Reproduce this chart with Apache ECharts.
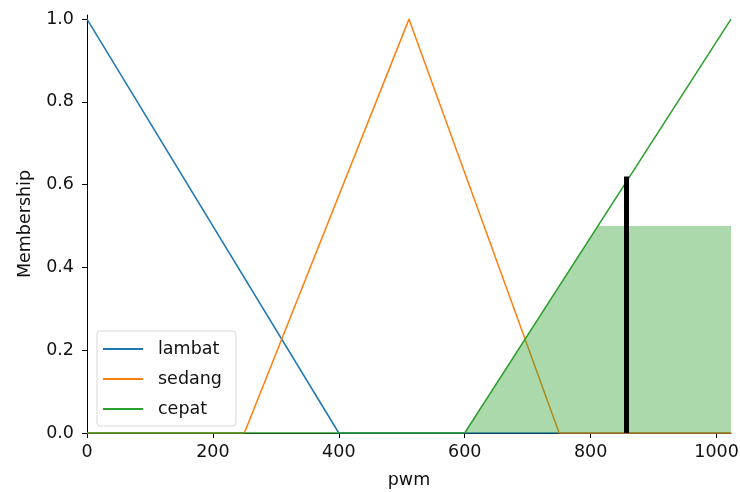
<!DOCTYPE html>
<html><head><meta charset="utf-8">
<script src="https://cdn.jsdelivr.net/npm/echarts@6/dist/echarts.min.js"></script>
<style>html,body{margin:0;padding:0;background:#fff}#c{width:740px;height:492px}</style>
</head><body><div id="c"></div>
<script>
// Membership function vertices (x = pwm, y = membership)
const lambatX = [0, 400, 1023];
const lambatY = [1, 0, 0];
const sedangX = [0, 250, 511.5, 750, 1023];
const sedangY = [0, 0, 1, 0, 0];
const cepatX = [0, 600, 1023];
const cepatY = [0, 0, 1];
// Activated (clipped) region of "cepat"
const fillX = [600, 811.5, 1023];
const fillY = [0, 0.5, 0.5];
// Crisp output line
const crispX = [857, 857];
const crispY = [0, 0.62];
const xTicks = [0, 200, 400, 600, 800, 1000];
const yTicks = [0, 0.2, 0.4, 0.6, 0.8, 1.0];
const seriesNames = ['lambat', 'sedang', 'cepat'];

const pair = (xs, ys) => xs.map((x, i) => [x, ys[i]]);
const FONT = 'DejaVu Sans';
const FS = 17.5;
const chart = echarts.init(document.getElementById('c'), null, {renderer: 'canvas'});
chart.setOption({
  animation: false,
  textStyle: {fontFamily: FONT},
  grid: {left: 87, right: 9, top: 15, bottom: 59, containLabel: false, outerBoundsMode: 'none'},
  xAxis: {
    type: 'value', min: 0, max: 1023,
    name: 'pwm', nameLocation: 'middle', nameGap: 38,
    nameTextStyle: {fontSize: FS, color: '#111', fontFamily: FONT},
    axisLine: {show: true, lineStyle: {color: '#000', width: 1}},
    axisTick: {show: true, length: 5, lineStyle: {color: '#000'}, customValues: xTicks},
    axisLabel: {fontSize: FS, color: '#111', margin: 10, fontFamily: FONT, customValues: xTicks,
      formatter: v => String(Math.round(v))},
    splitLine: {show: false}
  },
  yAxis: {
    type: 'value', min: 0, max: 1.01,
    name: 'Membership', nameLocation: 'middle', nameGap: 53, nameRotate: 90,
    nameTextStyle: {fontSize: FS, color: '#111', fontFamily: FONT},
    axisLine: {show: true, lineStyle: {color: '#000', width: 1}},
    axisTick: {show: true, length: 5, lineStyle: {color: '#000'}, customValues: yTicks},
    axisLabel: {fontSize: FS, color: '#111', margin: 13, fontFamily: FONT, customValues: yTicks,
      formatter: v => v.toFixed(1)},
    splitLine: {show: false}
  },
  legend: {
    orient: 'vertical', left: 97, top: 331,
    data: seriesNames,
    icon: 'rect', itemWidth: 40, itemHeight: 2, itemGap: 12,
    padding: [9, 14, 8, 6],
    borderColor: '#d8d8d8', borderWidth: 1, borderRadius: 3,
    backgroundColor: 'rgba(255,255,255,0.8)',
    textStyle: {fontSize: FS, color: '#111', fontFamily: FONT, padding: [0, 0, 0, 10]}
  },
  series: [
    {name: 'lambat', type: 'line', data: pair(lambatX, lambatY), showSymbol: false, color: '#1f77b4',
      lineStyle: {width: 1.5}, z: 2},
    {name: 'sedang', type: 'line', data: pair(sedangX, sedangY), showSymbol: false, color: '#ff7f0e',
      lineStyle: {width: 1.5}, z: 2},
    {name: 'cepat', type: 'line', data: pair(cepatX, cepatY), showSymbol: false, color: '#2ca02c',
      lineStyle: {width: 1.5}, z: 2},
    {name: 'fill', type: 'line', data: pair(fillX, fillY), showSymbol: false, color: '#2ca02c',
      lineStyle: {width: 0}, areaStyle: {color: '#2ca02c', opacity: 0.4}, z: 3},
    {name: 'crisp', type: 'line', data: pair(crispX, crispY), showSymbol: false, color: '#000',
      lineStyle: {width: 5, cap: 'butt'}, z: 4}
  ]
});
</script></body></html>
